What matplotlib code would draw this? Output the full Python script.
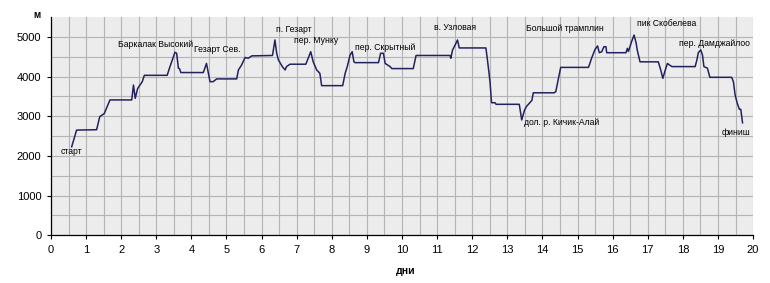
import matplotlib
matplotlib.use("Agg")
import matplotlib.pyplot as plt
import numpy as np

plt.rcParams['font.family'] = ['Liberation Sans', 'DejaVu Sans']

# route profile: day of trek vs altitude (m)
days = [0.59, 0.73, 1.30, 1.36, 1.39, 1.46, 1.52, 1.59, 1.68, 2.30,
        2.35, 2.40, 2.47, 2.60, 2.66, 3.31, 3.39, 3.49, 3.53, 3.58,
        3.63, 3.66, 3.70, 4.34, 4.43, 4.53, 4.62, 4.72, 5.29, 5.34,
        5.43, 5.53, 5.62, 5.72, 6.31, 6.38, 6.43, 6.48, 6.59, 6.67,
        6.71, 6.81, 7.26, 7.40, 7.47, 7.57, 7.66, 7.71, 8.31, 8.38,
        8.44, 8.52, 8.58, 8.63, 8.66, 9.33, 9.39, 9.47, 9.52, 9.66,
        9.71, 10.32, 10.40, 11.37, 11.39, 11.44, 11.51, 11.58, 11.63, 12.39,
        12.44, 12.48, 12.51, 12.55, 12.65, 12.68, 13.34, 13.41, 13.49, 13.55,
        13.70, 13.74, 14.33, 14.38, 14.52, 15.31, 15.34, 15.40, 15.50, 15.57,
        15.62, 15.69, 15.75, 15.81, 15.83, 16.38, 16.42, 16.45, 16.54, 16.61,
        16.67, 16.70, 16.78, 17.30, 17.37, 17.43, 17.50, 17.56, 17.62, 17.69,
        18.35, 18.40, 18.44, 18.51, 18.56, 18.60, 18.70, 18.77, 19.39, 19.44,
        19.49, 19.55, 19.61, 19.65, 19.70]
alt = [2230, 2650, 2660, 2880, 2990, 3030, 3070, 3220, 3410, 3410,
       3786, 3450, 3700, 3870, 4030, 4030, 4250, 4500, 4610, 4585,
       4210, 4200, 4100, 4100, 4330, 3870, 3870, 3940, 3940, 4165,
       4290, 4480, 4460, 4520, 4530, 4920, 4585, 4415, 4250, 4165,
       4250, 4310, 4310, 4625, 4370, 4165, 4080, 3770, 3770, 4080,
       4250, 4540, 4625, 4370, 4350, 4350, 4585, 4585, 4330, 4250,
       4200, 4200, 4530, 4530, 4460, 4670, 4790, 4920, 4720, 4720,
       4370, 4080, 3830, 3340, 3340, 3300, 3300, 2905, 3156, 3250,
       3400, 3590, 3590, 3617, 4230, 4230, 4300, 4460, 4685, 4770,
       4600, 4625, 4750, 4750, 4600, 4600, 4710, 4630, 4880, 5045,
       4840, 4670, 4370, 4370, 4165, 3955, 4165, 4330, 4290, 4250,
       4250, 4415, 4600, 4670, 4540, 4250, 4210, 3980, 3980, 3870,
       3530, 3325, 3175, 3175, 2835]

# place names on the route
names = ['старт', 'Баркалак Высокий', 'Гезарт Сев.', 'п. Гезарт', 'пер. Мунку',
         'пер. Скрытный', 'в. Узловая', 'дол. р. Кичик-Алай', 'Большой трамплин',
         'пик Скобелева', 'пер. Дамджайлоо', 'финиш']
name_x = [0.58, 2.98, 4.75, 6.92, 7.55, 9.52, 11.5, 14.54, 14.65, 17.54, 18.91, 19.52]
name_y = [2120, 4810, 4670, 5190, 4900, 4740, 5240, 2840, 5200, 5340, 4840, 2590]

fig = plt.figure(figsize=(7.7, 2.83), dpi=100)
ax = fig.add_axes([0.0662, 0.1686, 0.9118, 0.7714])
ax.set_facecolor('#ececec')

ax.plot(days, alt, color='#22225e', lw=1.1, zorder=3)

for n, x, y in zip(names, name_x, name_y):
    ax.text(x, y, n, fontsize=6.2, ha='center', va='center', color='black', zorder=4)

ax.set_xlim(0, 20)
ax.set_ylim(0, 5500)
ax.set_xticks(np.arange(0, 21, 1))
ax.set_yticks([0, 1000, 2000, 3000, 4000, 5000])
ax.set_xticks(np.arange(0.5, 20, 1), minor=True)
ax.set_yticks(np.arange(500, 5500, 1000), minor=True)
ax.grid(True, which='both', color='#b4b4b4', lw=0.8, zorder=0)
ax.set_axisbelow(True)
ax.tick_params(which='minor', length=0)
ax.tick_params(which='major', labelsize=8, length=3, width=0.8, color='black', pad=4)

for s in ['top', 'right']:
    ax.spines[s].set_visible(False)
for s in ['left', 'bottom']:
    ax.spines[s].set_color('black')
    ax.spines[s].set_linewidth(0.9)

fig.text(37 / 770, 1 - 15 / 283, 'м', fontsize=7, fontweight='bold', ha='center', va='center')
fig.text(406 / 770, 1 - 271 / 283, 'дни', fontsize=7.5, fontweight='bold', ha='center', va='center')

fig.savefig('out.png', dpi=100)
